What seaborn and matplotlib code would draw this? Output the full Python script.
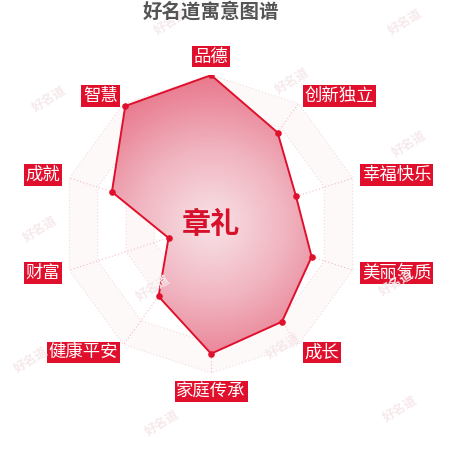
import numpy as np
import matplotlib
matplotlib.use("Agg")
import matplotlib.pyplot as plt
import seaborn as sns
from matplotlib.colors import LinearSegmentedColormap
from matplotlib.patches import Polygon

# ---------------- 数据 ----------------
categories = ["品德", "创新独立", "幸福快乐", "美丽气质", "成长",
              "家庭传承", "健康平安", "财富", "成就", "智慧"]
scores = [100, 76, 60, 71, 81, 87, 60, 30, 70, 98]
max_score = 100
name = "章礼"
title = "好名道寓意图谱"
watermark = "好名道"

# ---------------- 样式 ----------------
sns.set_theme(style="white")
plt.rcParams["font.family"] = ["Noto Sans CJK SC", "DejaVu Sans"]

RED = "#e0102d"
n = len(categories)
angles = np.linspace(0, 2 * np.pi, n, endpoint=False)
vals = np.array(scores) / max_score

fig = plt.figure(figsize=(4.5, 4.5), dpi=100)
fig.patch.set_facecolor("white")

# 水印
wm_pos = [(0.38, 0.95), (0.90, 0.95), (0.11, 0.78), (0.65, 0.82), (0.91, 0.68),
          (0.09, 0.49), (0.88, 0.37), (0.34, 0.36), (0.63, 0.23), (0.07, 0.20),
          (0.36, 0.06), (0.89, 0.09)]
for x, y in wm_pos:
    fig.text(x, y, watermark, rotation=32, color="#f6e9eb", fontsize=9,
             ha="center", va="center", fontweight="bold", zorder=0)

ax = fig.add_axes([0.138, 0.171, 0.662, 0.662], projection="polar")
ax.set_theta_zero_location("N")
ax.set_theta_direction(-1)
ax.set_ylim(0, 1)
ax.grid(False)
ax.spines["polar"].set_visible(False)
ax.set_xticks([])
ax.set_yticks([])
ax.patch.set_alpha(0)

# 背景分隔区域
ring_levels = [0.2, 0.4, 0.6, 0.8, 1.0]
closed_ang = np.append(angles, angles[0])
band_colors = ["#fdf8f9", "#ffffff", "#fdf7f8", "#ffffff", "#fdf9f9"]
for i in range(len(ring_levels) - 1, -1, -1):
    lv = ring_levels[i]
    ax.fill(closed_ang, np.full(n + 1, lv), color=band_colors[i], zorder=1, lw=0)
for lv in ring_levels:
    ax.plot(closed_ang, np.full(n + 1, lv), color="#f3dade", lw=0.8,
            ls=(0, (1, 2)), zorder=2)
for a in angles:
    ax.plot([a, a], [0, 1], color="#f2bcc5", lw=0.8, ls=(0, (1, 2)), zorder=2)

# 渐变填充
cmap = LinearSegmentedColormap.from_list("rad", ["#f8e2e6", "#f0b4c0", "#e8788c"])
tt, rr = np.meshgrid(np.linspace(0, 2 * np.pi, 240), np.linspace(0, 1, 120))
mesh = ax.pcolormesh(tt, rr, rr[:-1, :-1], cmap=cmap, shading="flat", zorder=3)
poly = Polygon(np.column_stack([angles, vals]), closed=True,
               transform=ax.transData, facecolor="none", edgecolor="none")
ax.add_patch(poly)
mesh.set_clip_path(poly)

closed_vals = np.append(vals, vals[0])
ax.plot(closed_ang, closed_vals, color=RED, lw=1.4, zorder=4)
ax.scatter(angles, vals, s=14, color=RED, zorder=5)

# 维度标签
for a, lab in zip(angles, categories):
    s = np.sin(a)
    c = np.cos(a)
    if abs(s) < 0.01:
        ha = "center"
        va = "bottom" if c > 0 else "top"
    else:
        ha = "left" if s > 0 else "right"
        va = "center"
    ax.text(a, 1.065, lab, ha=ha, va=va, color="white", fontsize=12.5,
            zorder=6, bbox=dict(boxstyle="square,pad=0.1", fc=RED, ec="none"))

ax.text(0, 0, name, ha="center", va="center", color="#d7102b",
        fontsize=21, fontweight="bold", zorder=6)

fig.text(0.469, 0.975, title, ha="center", va="center", color="#555555",
         fontsize=14, fontweight="bold")

fig.savefig("out.png", dpi=100, facecolor="white")
